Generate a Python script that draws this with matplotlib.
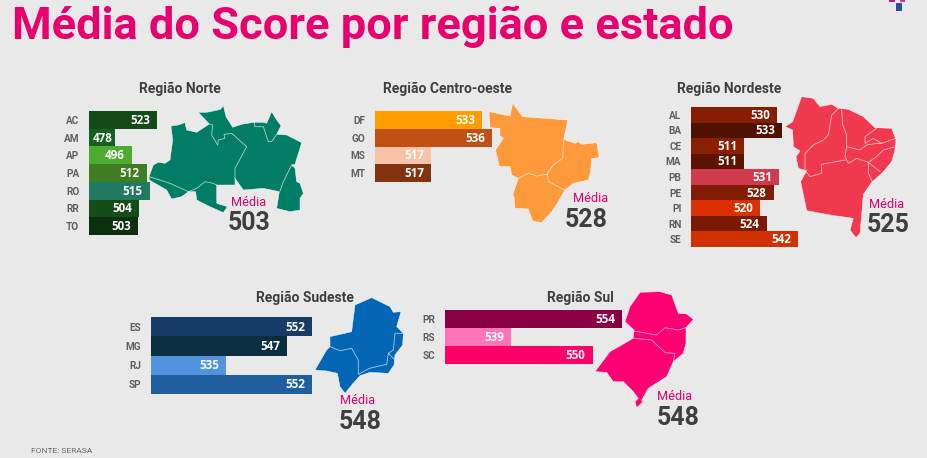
import matplotlib
matplotlib.use("Agg")
import matplotlib.pyplot as plt
from matplotlib.patches import Polygon, Rectangle

plt.rcParams['font.family'] = ['Roboto', 'DejaVu Sans']

W, H = 928, 458
BG = '#e9e9e9'
PINK = '#e8006f'
DARK = '#3f3f3f'

# ---------- data ----------
norte_states = ['AC', 'AM', 'AP', 'PA', 'RO', 'RR', 'TO']
norte_values = [523, 478, 496, 512, 515, 504, 503]
norte_colors = ['#124a18', '#14601e', '#4dab2f', '#3f7d22', '#227a62', '#144d18', '#0c2f0e']

centro_states = ['DF', 'GO', 'MS', 'MT']
centro_values = [533, 536, 517, 517]
centro_colors = ['#ff9c00', '#bf5114', '#f6c3a8', '#83330f']

nordeste_states = ['AL', 'BA', 'CE', 'MA', 'PB', 'PE', 'PI', 'RN', 'SE']
nordeste_values = [530, 533, 511, 511, 531, 528, 520, 524, 542]
nordeste_colors = ['#871d03', '#4f1100', '#8a1f02', '#5c1300', '#cf3a4d', '#821d03', '#db3000', '#7b1a03', '#cf3100']

sudeste_states = ['ES', 'MG', 'RJ', 'SP']
sudeste_values = [552, 547, 535, 552]
sudeste_colors = ['#173c65', '#0b2e40', '#4f94dc', '#205e9e']

sul_states = ['PR', 'RS', 'SC']
sul_values = [554, 539, 550]
sul_colors = ['#8a0045', '#ff73b9', '#ff0069']

# decorative map outlines, traced in crop coordinates
norte_outline = [(297,305),(310,270),(325,262),(345,265),(360,255),(368,195),(363,153),(385,150),(405,143),(410,165),(440,172),(478,147),(445,112),(470,112),(490,108),(512,103),(520,92),(528,125),(548,157),(575,148),(610,142),(640,142),(650,145),(665,110),(680,135),(693,152),(680,178),(710,180),(755,203),(735,268),(725,270),(735,280),(740,320),(750,325),(760,355),(750,370),(750,405),(720,410),(680,400),(688,350),(640,340),(580,345),(555,310),(555,330),(500,330),(500,385),(532,395),(520,413),(480,395),(440,375),(437,350),(415,350),(395,365),(365,372),(350,345),(298,315)]
norte_inner = [[(478,147),(488,150),(485,180),(503,210),(505,195),(525,190),(522,178),(545,175),(590,215),(555,280),(555,310)],
               [(612,142),(615,155),(640,155),(655,200),(665,200),(680,178)],
               [(725,270),(700,320),(690,348)],
               [(298,305),(360,325),(415,350),(440,340),(465,320),(490,325),(500,330)]]
centro_outline = [(447,110),(510,123),(518,85),(548,125),(683,135),(672,190),(680,197),(705,205),(715,200),(725,208),(770,203),(778,248),(755,250),(752,290),(745,315),(700,325),(675,345),(655,380),(635,410),(605,443),(578,438),(565,402),(525,400),(522,365),(518,360),(535,310),(515,300),(510,275),(478,275),(467,225),(490,190),(480,182),(480,160),(450,158)]
centro_inner = [[(672,190),(668,250),(640,270),(622,295),(625,320),(675,345)],
                [(535,310),(565,295),(590,303),(622,298)]]
nordeste_outline = [(405,155),(428,140),(455,65),(490,70),(510,95),(545,88),(565,100),(595,103),(640,125),(675,158),(725,160),(738,195),(735,225),(725,260),(700,290),(665,322),(640,358),(635,420),(630,475),(618,488),(600,465),(610,430),(540,420),(470,407),(452,320),(470,287),(445,280),(438,245),(450,228),(430,215),(428,165)]
nordeste_inner = [[(565,100),(545,120),(535,180),(520,195),(490,210),(465,235),(465,285),(480,305),(515,295),(515,268),(585,255)],
                  [(575,105),(578,150),(590,180),(590,215),(585,245),(595,265),(620,250),(655,262),(690,290)],
                  [(590,215),(630,225),(650,210),(680,205),(695,205),(738,190)],
                  [(680,160),(645,185),(645,205),(670,190),(695,205)],
                  [(738,215),(700,225),(680,245),(655,262),(655,295),(668,322)]]
sudeste_outline = [(615,255),(650,195),(660,185),(660,155),(705,145),(725,140),(735,60),(785,38),(840,65),(850,82),(873,80),(860,125),(880,145),(878,180),(855,210),(852,240),(835,265),(780,262),(750,272),(725,300),(705,325),(690,305),(682,265),(650,258)]
sudeste_inner = [[(660,185),(690,197),(725,190),(745,225),(745,268),(778,250),(830,238),(835,205),(850,195),(855,145),(880,145)],
                 [(835,205),(852,222)]]
sul_outline = [(645,110),(660,65),(690,22),(750,20),(785,30),(805,85),(830,87),(850,103),(828,128),(828,175),(820,205),(790,230),(770,275),(715,310),(695,345),(697,352),(680,368),(675,350),(685,340),(670,320),(640,290),(610,290),(590,262),(555,260),(600,200),(670,160),(672,135)]
sul_inner = [[(672,138),(740,150),(765,128),(805,135),(828,128)],
             [(672,160),(725,165),(765,203),(795,205),(790,230)]]

panels = [
    dict(title='Região Norte', tc=(180, 89), states=norte_states, values=norte_values, colors=norte_colors,
         rect=(89, 111, 157, 235), base=450, mean=503, mpos=(249, 202), npos=(249, 223),
         outline=norte_outline, inner=norte_inner, off=(50, 75), fill='#007d64'),
    dict(title='Região Centro-oeste', tc=(448, 89), states=centro_states, values=centro_values, colors=centro_colors,
         rect=(375, 111, 492, 182), base=499.5, mean=528, mpos=(591, 199), npos=(586, 220),
         outline=centro_outline, inner=centro_inner, off=(340, 75), fill='#ff9a3c'),
    dict(title='Região Nordeste', tc=(729, 89), states=nordeste_states, values=nordeste_values, colors=nordeste_colors,
         rect=(691, 107, 798, 247), base=480.5, mean=525, mpos=(887, 205), npos=(888, 225),
         outline=nordeste_outline, inner=nordeste_inner, off=(650, 75), fill='#f0394f'),
    dict(title='Região Sudeste', tc=(305, 298), states=sudeste_states, values=sudeste_values, colors=sudeste_colors,
         rect=(151, 317, 312, 394), base=520, mean=548, mpos=(358, 401), npos=(360, 422),
         outline=sudeste_outline, inner=sudeste_inner, off=(110, 285), fill='#0366b5'),
    dict(title='Região Sul', tc=(580, 298), states=sul_states, values=sul_values, colors=sul_colors,
         rect=(445, 310, 622, 364), base=530, mean=548, mpos=(675, 397), npos=(678, 418),
         outline=sul_outline, inner=sul_inner, off=(410, 285), fill='#ff0073'),
]

fig = plt.figure(figsize=(W / 100, H / 100), dpi=100, facecolor=BG)
bg = fig.add_axes([0, 0, 1, 1])
bg.set_xlim(0, W)
bg.set_ylim(H, 0)
bg.axis('off')

bg.text(12, 27, 'Média do Score por região e estado', fontsize=32.6, fontweight='bold',
        color=PINK, ha='left', va='center')
bg.text(31, 451, 'FONTE: SERASA', fontsize=6, color='#666666', ha='left', va='center')

# corner logo dots
bg.add_patch(Rectangle((896, 3), 6, 8, color='#2f4f9e', lw=0))
bg.add_patch(Rectangle((889, 0), 6, 2, color='#b0218c', lw=0))
bg.add_patch(Rectangle((900, 0), 5, 1.5, color='#d8388c', lw=0))

for p in panels:
    ox, oy = p['off']
    to_px = lambda pts: [(ox + x / 3, oy + y / 3) for x, y in pts]
    bg.add_patch(Polygon(to_px(p['outline']), closed=True, facecolor=p['fill'], edgecolor='white', lw=0.3))
    for line in p['inner']:
        xs, ys = zip(*to_px(line))
        bg.plot(xs, ys, color='white', lw=0.6, alpha=0.65, solid_joinstyle='round')
    bg.text(*p['tc'], p['title'], fontsize=10, fontweight='bold', color=DARK, ha='center', va='center')
    bg.text(*p['mpos'], 'Média', fontsize=9.2, color=PINK, ha='center', va='center')
    bg.text(*p['npos'], str(p['mean']), fontsize=18, fontweight='bold', color=DARK, ha='center', va='center')

    x0, y0, x1, y1 = p['rect']
    ax = fig.add_axes([x0 / W, 1 - y1 / H, (x1 - x0) / W, (y1 - y0) / H])
    ax.patch.set_alpha(0)
    ypos = list(range(len(p['states'])))
    ax.barh(ypos, p['values'], left=0, height=1.0, color=p['colors'], linewidth=0)
    ax.set_xlim(p['base'], max(p['values']))
    ax.set_ylim(len(ypos) - 0.5, -0.5)
    ax.set_xticks([])
    ax.set_yticks(ypos, p['states'])
    ax.tick_params(axis='y', length=0, pad=7)
    for t in ax.get_yticklabels():
        t.set_fontsize(7.2)
        t.set_fontweight('bold')
        t.set_color('#5f5f5f')
    for s in ax.spines.values():
        s.set_visible(False)
    px_per_unit = (x1 - x0) / (max(p['values']) - p['base'])
    for y, v in zip(ypos, p['values']):
        inset = -2 if (v - p['base']) * px_per_unit < 30 else -5
        ax.annotate(str(v), (v, y), xytext=(inset, -0.4), textcoords='offset points', ha='right', va='center',
                    fontsize=8.4, fontweight='bold', color='white', family=['Open Sans', 'DejaVu Sans'])

fig.savefig('out.png', dpi=100, facecolor=BG)
